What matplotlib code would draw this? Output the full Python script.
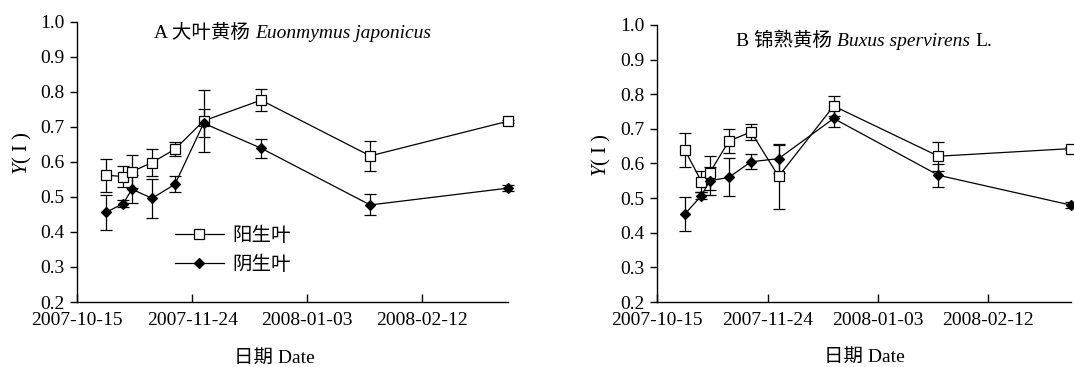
import matplotlib
matplotlib.use('Agg')
import matplotlib.pyplot as plt
import matplotlib.dates as mdates
import numpy as np
from matplotlib.offsetbox import TextArea, HPacker, AnchoredOffsetbox

FAMILY = ['Liberation Serif', 'Noto Sans CJK SC']
plt.rcParams['font.family'] = FAMILY
plt.rcParams['mathtext.fontset'] = 'custom'
plt.rcParams['mathtext.rm'] = 'Liberation Serif'
plt.rcParams['mathtext.it'] = 'Liberation Serif:italic'
plt.rcParams['font.size'] = 14

# sampling dates (same for both species)
dates = ['2007-10-25', '2007-10-31', '2007-11-03', '2007-11-10', '2007-11-18',
         '2007-11-28', '2007-12-18', '2008-01-25', '2008-03-13']
tick_dates = ['2007-10-15', '2007-11-24', '2008-01-03', '2008-02-12']
x_start = '2007-10-15'
x_end = '2008-03-13'

# A: Euonymus japonicus
a_sun = [0.562, 0.558, 0.572, 0.598, 0.636, 0.717, 0.776, 0.617, 0.716]
a_sun_err = [0.047, 0.030, 0.048, 0.038, 0.020, 0.088, 0.032, 0.042, 0.004]
a_shade = [0.456, 0.481, 0.522, 0.496, 0.536, 0.710, 0.639, 0.477, 0.525]
a_shade_err = [0.050, 0.010, 0.040, 0.055, 0.023, 0.040, 0.027, 0.030, 0.008]

# B: Buxus sempervirens
b_sun = [0.639, 0.548, 0.573, 0.665, 0.691, 0.563, 0.766, 0.621, 0.643]
b_sun_err = [0.050, 0.030, 0.050, 0.034, 0.024, 0.093, 0.030, 0.042, 0.004]
b_shade = [0.454, 0.507, 0.550, 0.560, 0.605, 0.614, 0.730, 0.566, 0.480]
b_shade_err = [0.050, 0.010, 0.040, 0.055, 0.021, 0.040, 0.025, 0.033, 0.008]

labels = ['阳生叶', '阴生叶']


def to_dt(lst):
    return np.array(lst, dtype='datetime64[D]')


def add_title(ax, parts, y):
    boxes = []
    for txt, style in parts:
        boxes.append(TextArea(txt, textprops=dict(fontsize=14, family=FAMILY,
                                                  style=style, color='black')))
    box = HPacker(children=boxes, align='baseline', pad=0, sep=3.5)
    anc = AnchoredOffsetbox(loc='center', child=box, pad=0, borderpad=0,
                            frameon=False, bbox_to_anchor=(0.5, y),
                            bbox_transform=ax.transAxes)
    ax.add_artist(anc)


def draw_panel(ax, sun, sun_err, shade, shade_err):
    x = to_dt(dates)
    common = dict(color='black', lw=0.9, elinewidth=0.9, capsize=4.5,
                  capthick=0.9, clip_on=False)
    e1 = ax.errorbar(x, sun, yerr=sun_err, marker='s', ms=6.5, mfc='white',
                     mec='black', mew=0.9, **common)
    e2 = ax.errorbar(x, shade, yerr=shade_err, marker='D', ms=5.5, mfc='black',
                     mec='black', mew=0.9, **common)
    for e in (e1, e2):
        for art in e.lines[1] + e.lines[2]:
            art.set_clip_on(False)
    ax.set_xlim(to_dt([x_start])[0], to_dt([x_end])[0])
    ax.set_ylim(0.2, 1.0)
    ax.set_yticks(np.arange(0.2, 1.01, 0.1))
    ax.yaxis.set_major_formatter(plt.FormatStrFormatter('%.1f'))
    ax.set_xticks(to_dt(tick_dates))
    ax.xaxis.set_major_formatter(mdates.DateFormatter('%Y-%m-%d'))
    ax.spines['top'].set_visible(False)
    ax.spines['right'].set_visible(False)
    for s in ('left', 'bottom'):
        ax.spines[s].set_linewidth(1.0)
    ax.tick_params(axis='x', direction='in', length=6, width=1.0, pad=7,
                   labelsize=14)
    ax.tick_params(axis='y', direction='out', length=5, width=1.0, pad=4,
                   labelsize=14)
    ax.set_xlabel('日期 Date', fontsize=14)
    ax.set_ylabel(r'$\mathit{Y}$( I )', fontsize=15)
    return e1, e2


fig = plt.figure(figsize=(10.74, 3.67), dpi=100)
ax1 = fig.add_axes([0.072, 0.177, 0.401, 0.764])
ax2 = fig.add_axes([0.612, 0.177, 0.385, 0.755])

e1, e2 = draw_panel(ax1, a_sun, a_sun_err, a_shade, a_shade_err)
draw_panel(ax2, b_sun, b_sun_err, b_shade, b_shade_err)

add_title(ax1, [('A 大叶黄杨', 'normal'), ('Euonmymus japonicus', 'italic')], 0.96)
add_title(ax2, [('B 锦熟黄杨', 'normal'), ('Buxus spervirens', 'italic'),
                ('L.', 'normal')], 0.942)

ax1.legend([e1[0], e2[0]], labels, loc='center left', frameon=False,
           bbox_to_anchor=(0.227, 0.185), borderpad=0, borderaxespad=0,
           handlelength=2.5, handletextpad=0.45, labelspacing=0.55, numpoints=1,
           fontsize=14)

ax1.xaxis.set_label_coords(0.457, -0.17)
ax2.xaxis.set_label_coords(0.5, -0.17)
ax1.yaxis.set_label_coords(-0.10, 0.53)
ax2.yaxis.set_label_coords(-0.108, 0.53)

fig.savefig('out.png', dpi=100)
